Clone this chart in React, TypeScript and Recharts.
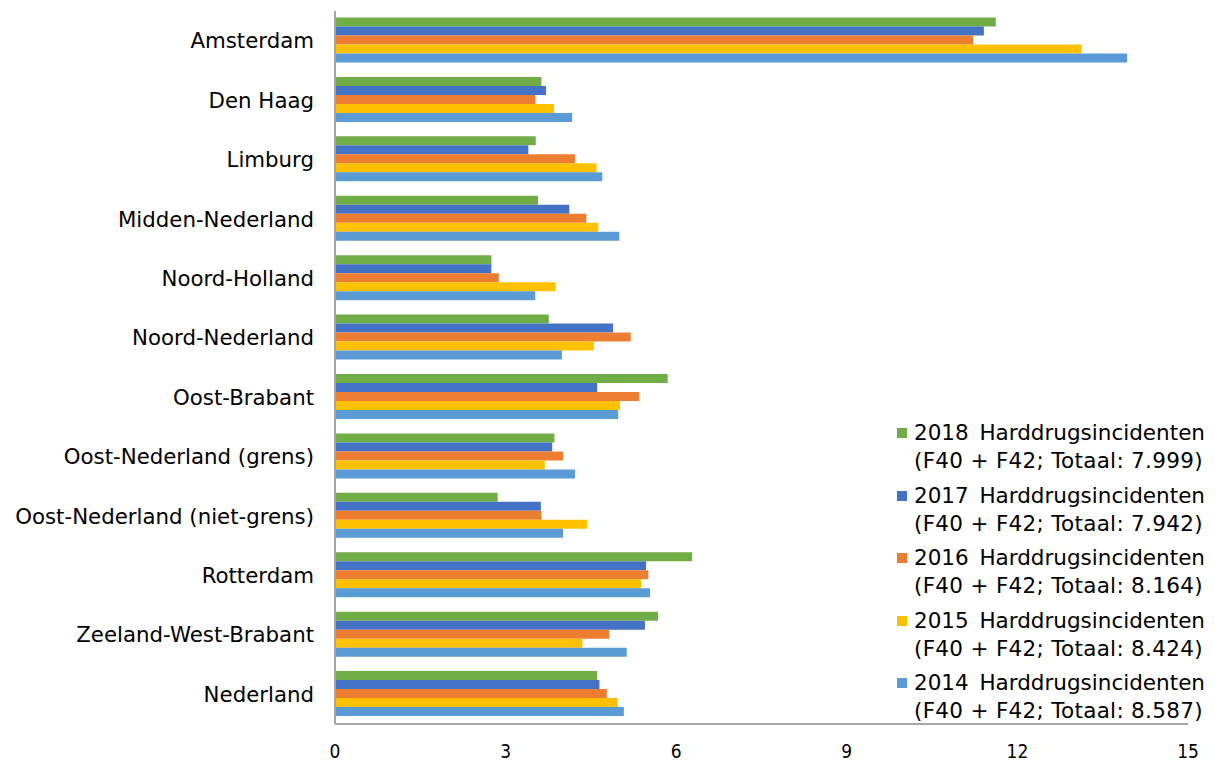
import { BarChart, Bar, XAxis, YAxis } from "recharts"

const regions = [
  "Amsterdam",
  "Den Haag",
  "Limburg",
  "Midden-Nederland",
  "Noord-Holland",
  "Noord-Nederland",
  "Oost-Brabant",
  "Oost-Nederland (grens)",
  "Oost-Nederland (niet-grens)",
  "Rotterdam",
  "Zeeland-West-Brabant",
  "Nederland",
]

const values2018 = [11.62, 3.63, 3.53, 3.57, 2.75, 3.76, 5.85, 3.86, 2.86, 6.28, 5.68, 4.61]
const values2017 = [11.41, 3.71, 3.4, 4.12, 2.75, 4.89, 4.61, 3.82, 3.62, 5.47, 5.45, 4.65]
const values2016 = [11.22, 3.52, 4.22, 4.42, 2.88, 5.2, 5.35, 4.01, 3.63, 5.51, 4.82, 4.78]
const values2015 = [13.13, 3.85, 4.6, 4.63, 3.88, 4.55, 5.01, 3.69, 4.43, 5.38, 4.35, 4.97]
const values2014 = [13.93, 4.17, 4.7, 5.0, 3.52, 3.99, 4.98, 4.22, 4.01, 5.54, 5.13, 5.08]

const xTicks = [0, 3, 6, 9, 12, 15]

const series = [
  { key: "y2018", year: "2018", total: "7.999", color: "#70ad47", values: values2018 },
  { key: "y2017", year: "2017", total: "7.942", color: "#4472c4", values: values2017 },
  { key: "y2016", year: "2016", total: "8.164", color: "#ed7d31", values: values2016 },
  { key: "y2015", year: "2015", total: "8.424", color: "#ffc000", values: values2015 },
  { key: "y2014", year: "2014", total: "8.587", color: "#5b9bd5", values: values2014 },
]

const chartData = regions.map((region, i) => {
  const row: Record<string, string | number> = { region }
  series.forEach((s) => {
    row[s.key] = s.values[i]
  })
  return row
})

const font = "'DejaVu Sans', Verdana, sans-serif"

// legend drawn as an overlay so it does not shrink the plot area
function LegendBox() {
  return (
    <div
      style={{
        position: "absolute",
        left: 897,
        top: 419,
        fontFamily: font,
        fontSize: 21.5,
        color: "#000",
      }}
    >
      {series.map((s) => (
        <div key={s.key} style={{ display: "flex", height: 62.5 }}>
          <div
            style={{
              width: 10,
              height: 10,
              background: s.color,
              marginTop: 9,
              marginRight: 7,
            }}
          />
          <div style={{ width: 291, lineHeight: "28px", whiteSpace: "nowrap" }}>
            <div style={{ display: "flex", justifyContent: "space-between" }}>
              <span>{s.year}</span>
              <span>Harddrugsincidenten</span>
            </div>
            <div style={{ letterSpacing: 0.3 }}>(F40 + F42; Totaal: {s.total})</div>
          </div>
        </div>
      ))}
    </div>
  )
}

export default function App() {
  return (
    <div
      style={{
        position: "absolute",
        left: 0,
        top: 0,
        width: 1215,
        height: 764,
        background: "#fff",
      }}
    >
      <BarChart
        width={1215}
        height={764}
        data={chartData}
        layout="vertical"
        margin={{ top: 11, right: 27, bottom: 0, left: 0 }}
        barCategoryGap="11%"
        barGap={0}
      >
        <XAxis
          type="number"
          domain={[0, 15]}
          ticks={xTicks}
          height={40}
          tickLine={false}
          tickSize={0}
          tickMargin={21}
          axisLine={{ stroke: "#a6a6a6", strokeWidth: 2 }}
          tick={{
            fill: "#000",
            fontSize: 19,
            fontFamily: "'DejaVu Sans Condensed', 'DejaVu Sans', sans-serif",
          }}
        />
        <YAxis
          type="category"
          dataKey="region"
          width={335}
          tickLine={false}
          tickSize={0}
          tickMargin={21}
          axisLine={{ stroke: "#a6a6a6", strokeWidth: 2 }}
          tick={{ fill: "#000", fontSize: 21.3, fontFamily: font }}
          interval={0}
        />
        {series.map((s) => (
          <Bar
            key={s.key}
            dataKey={s.key}
            fill={s.color}
            isAnimationActive={false}
          />
        ))}
      </BarChart>
      <LegendBox />
    </div>
  )
}
